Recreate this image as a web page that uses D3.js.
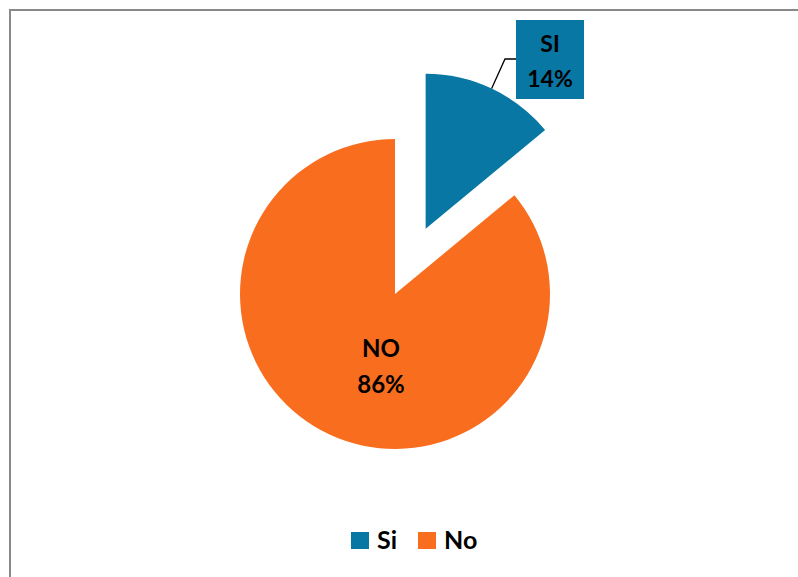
<!DOCTYPE html>
<html>
<head>
<meta charset="utf-8">
<script src="https://cdn.jsdelivr.net/npm/d3@7"></script>
<style>
  html, body { margin: 0; padding: 0; background: #fff; }
  svg { display: block; }
  text { font-family: Lato, "Open Sans", sans-serif; font-weight: bold; fill: #000; }
</style>
</head>
<body>
<svg id="chart" width="798" height="577"></svg>
<script>
// Survey answers
const categories = ["Si", "No"];
const values = [14, 86];
const sliceLabels = ["SI", "NO"];
const colors = ["#0877a3", "#f96d1e"];

const svg = d3.select("#chart");
const W = 798, H = 577;

// chart frame
svg.append("rect")
  .attr("x", 10).attr("y", 10)
  .attr("width", W + 20).attr("height", H + 20)
  .attr("fill", "#fff")
  .attr("stroke", "#898989").attr("stroke-width", 2);

const cx = 395, cy = 294, r = 155, explode = 72;

const pie = d3.pie().sort(null).value(d => d.value);
const arc = d3.arc().innerRadius(0).outerRadius(r);
const data = pie(categories.map((c, i) => ({ cat: c, value: values[i], label: sliceLabels[i], color: colors[i] })));

const g = svg.append("g").attr("transform", `translate(${cx},${cy})`);

function offset(d) {
  if (d.data.cat !== "Si") return [0, 0];
  const a = (d.startAngle + d.endAngle) / 2;
  return [Math.sin(a) * explode, -Math.cos(a) * explode];
}

g.selectAll("path.slice")
  .data(data)
  .join("path")
  .attr("class", "slice")
  .attr("d", arc)
  .attr("fill", d => d.data.color)
  .attr("transform", d => `translate(${offset(d)})`);

// label for the exploded slice: callout box with leader line from the arc midpoint
const si = data[0];
const [ox, oy] = offset(si);
const la = (si.startAngle + si.endAngle) / 2;
const px = Math.sin(la) * r + ox, py = -Math.cos(la) * r + oy;
const boxX = 516 - cx, boxY = 20 - cy, boxW = 68, boxH = 79;
g.append("path")
  .attr("d", `M${px},${py} L${505 - cx},${59 - cy} L${boxX},${59 - cy}`)
  .attr("fill", "none").attr("stroke", "#000").attr("stroke-width", 1.3);
g.append("rect")
  .attr("x", boxX).attr("y", boxY).attr("width", boxW).attr("height", boxH)
  .attr("fill", si.data.color);
g.append("text").attr("x", boxX + boxW / 2).attr("y", 52 - cy)
  .attr("text-anchor", "middle").attr("font-size", 23).text(si.data.label);
g.append("text").attr("x", boxX + boxW / 2).attr("y", 87 - cy)
  .attr("text-anchor", "middle").attr("font-size", 23).text(si.data.value + "%");

// label inside the large slice
const no = data[1];
g.append("text").attr("x", 381 - cx).attr("y", 357 - cy)
  .attr("text-anchor", "middle").attr("font-size", 24).text(no.data.label);
g.append("text").attr("x", 381 - cx).attr("y", 393 - cy)
  .attr("text-anchor", "middle").attr("font-size", 24).text(no.data.value + "%");

// legend
const legendX = [351, 418];
const leg = svg.append("g");
categories.forEach((c, i) => {
  leg.append("rect").attr("x", legendX[i]).attr("y", 532)
    .attr("width", 18).attr("height", 17).attr("fill", colors[i]);
  leg.append("text").attr("x", legendX[i] + 26).attr("y", 549)
    .attr("font-size", 25).text(c);
});
</script>
</body>
</html>
